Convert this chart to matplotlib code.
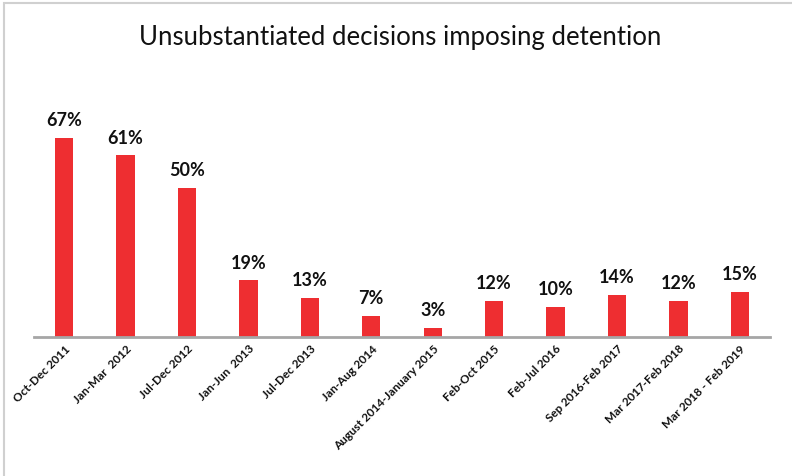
import matplotlib.pyplot as plt
from matplotlib.patches import Rectangle

periods = ["Oct-Dec 2011", "Jan-Mar  2012", "Jul-Dec 2012", "Jan-Jun  2013", "Jul-Dec 2013",
           "Jan-Aug 2014", "August 2014-January 2015", "Feb-Oct 2015", "Feb-Jul 2016",
           "Sep 2016-Feb 2017", "Mar 2017-Feb 2018", "Mar 2018 - Feb 2019"]
shares = [67, 61, 50, 19, 13, 7, 3, 12, 10, 14, 12, 15]

plt.rcParams["font.family"] = ["Lato", "DejaVu Sans"]

fig = plt.figure(figsize=(7.92, 4.77), dpi=100)
ax = fig.add_axes([34 / 792, 1 - 337.7 / 477, 736 / 792, 237.7 / 477])

x = range(len(shares))
bars = ax.bar(x, shares, width=0.3, color="#ee2e31")
for xi, v in zip(x, shares):
    ax.annotate(f"{v}%", (xi, v), xytext=(0, 7), textcoords="offset points",
                ha="center", va="bottom", fontsize=13, fontweight="bold", color="#111111")

ax.set_xlim(-0.49, len(shares) - 0.51)
ax.set_ylim(0, 80)
ax.set_xticks(list(x))
ax.set_xticklabels(periods, rotation=45, ha="right", rotation_mode="anchor",
                   fontsize=8.5, fontweight="bold", color="#111111")
ax.tick_params(axis="x", length=0, pad=4)
ax.set_yticks([])
for s in ["top", "right", "left"]:
    ax.spines[s].set_visible(False)
ax.spines["bottom"].set_color("#a6a6a6")
ax.spines["bottom"].set_linewidth(2)

fig.text(0.505, 1 - 38 / 477, "Unsubstantiated decisions imposing detention",
         ha="center", va="center", fontsize=18.5, color="#111111")

# light frame around the chart area (top and left edges visible)
fig.add_artist(Rectangle((4 / 792, -0.1), 1.2, 1 - 4 / 477 + 0.1, transform=fig.transFigure,
                         fill=False, edgecolor="#d0d0d0", linewidth=1.5))

fig.savefig("out.png", dpi=100)
